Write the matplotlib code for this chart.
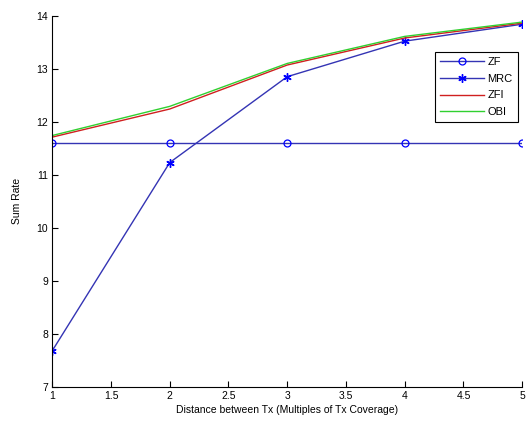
import numpy as np
import matplotlib
matplotlib.use("Agg")
import matplotlib.pyplot as plt

# ---------------------------------------------------------------------------
# Data
# ---------------------------------------------------------------------------
distance = [1, 2, 3, 4, 5]
zf = [11.59, 11.59, 11.59, 11.59, 11.59]
mrc = [7.68, 11.23, 12.85, 13.52, 13.84]
zfi = [11.71, 12.24, 13.07, 13.58, 13.86]
obi = [11.74, 12.29, 13.10, 13.61, 13.88]

xticks = [1, 1.5, 2, 2.5, 3, 3.5, 4, 4.5, 5]
yticks = [7, 8, 9, 10, 11, 12, 13, 14]

# ---------------------------------------------------------------------------
# Plot
# ---------------------------------------------------------------------------
plt.rcParams["font.family"] = ["Liberation Sans", "DejaVu Sans"]

fig = plt.figure(figsize=(5.28, 4.25), dpi=100)
ax = fig.add_axes([0.099, 0.090, 0.890, 0.873])

line_blue = "#3434b4"
ax.plot(distance, zf, color=line_blue, lw=1.0, marker="o", ms=5,
        mfc="none", mec="blue", mew=0.9, label="ZF")
ax.plot(distance, mrc, color=line_blue, lw=1.0, marker=(6, 2, 0), ms=6,
        mfc="blue", mec="blue", mew=1.0, label="MRC")
ax.plot(distance, zfi, color="#d02020", lw=1.0, label="ZFI")
ax.plot(distance, obi, color="#30d030", lw=1.0, label="OBI")

ax.set_xlim(1, 5)
ax.set_ylim(7, 14)
ax.set_xticks(xticks)
ax.set_xticklabels([f"{t:g}" for t in xticks])
ax.set_yticks(yticks)
ax.tick_params(direction="in", length=4, width=0.8, labelsize=7.5, pad=3)
ax.spines["top"].set_visible(False)
ax.spines["right"].set_visible(False)

ax.set_xlabel("Distance between Tx (Multiples of Tx Coverage)", fontsize=7.5, labelpad=3)
ax.set_ylabel("Sum Rate", fontsize=7.5, labelpad=10)

leg = ax.legend(loc="upper right", bbox_to_anchor=(1.002, 0.918), fontsize=8,
                fancybox=False, edgecolor="black", framealpha=1,
                handlelength=4.0, borderpad=0.45, labelspacing=0.62,
                handletextpad=0.3, borderaxespad=0.5)
leg.get_frame().set_linewidth(0.8)

fig.savefig("out.png", dpi=100)
